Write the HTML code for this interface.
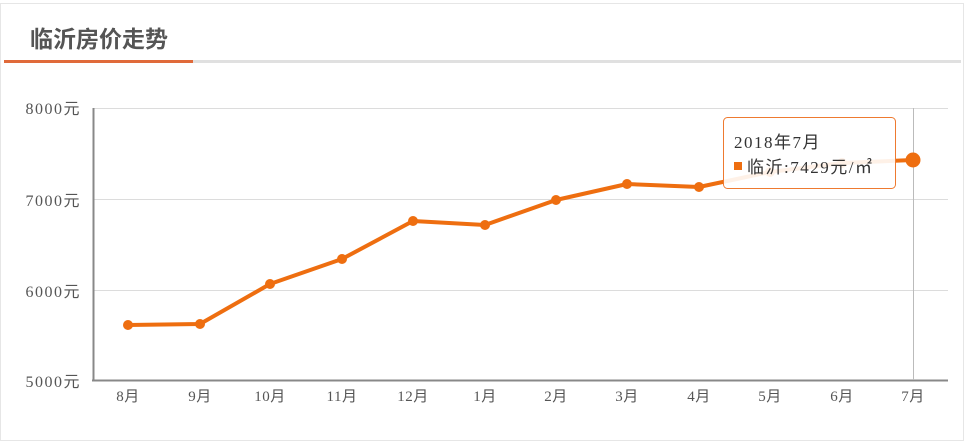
<!DOCTYPE html><html><head><meta charset="utf-8"><style>
body{margin:0;width:965px;height:442px;background:#fff;overflow:hidden;font-family:"Liberation Sans","Noto Sans CJK SC",sans-serif}
</style></head><body>
<svg width="965" height="442" style="position:absolute;left:0;top:0" font-family="Liberation Serif, Noto Sans CJK SC, serif">
<rect x="0.5" y="3.5" width="963" height="437" fill="#fff" stroke="#e6e6e6"/>
<text x="30" y="47" font-size="23" font-weight="bold" fill="#555" font-family="Liberation Sans, Noto Sans CJK SC, sans-serif">临沂房价走势</text>
<rect x="4" y="60" width="957" height="3" fill="#e0e0e0"/>
<rect x="4" y="60" width="189" height="3" fill="#e06a3a"/>
<g stroke="#dcdcdc" stroke-width="1">
<line x1="93" y1="108.5" x2="948" y2="108.5"/><line x1="93" y1="199.5" x2="948" y2="199.5"/><line x1="93" y1="290.5" x2="948" y2="290.5"/>
</g>
<line x1="93.5" y1="108" x2="93.5" y2="381" stroke="#888" stroke-width="2"/>
<line x1="92" y1="380.5" x2="948" y2="380.5" stroke="#888" stroke-width="2"/>
<line x1="913.5" y1="108" x2="913.5" y2="380" stroke="#bbb"/>
<g font-size="16" fill="#555" text-anchor="end" letter-spacing="1.5">
<text x="81" y="114">8000元</text><text x="81" y="206">7000元</text><text x="81" y="297">6000元</text><text x="81" y="387">5000元</text>
</g>
<g font-size="15" fill="#555" text-anchor="middle" letter-spacing="0.5">
<text x="128" y="401">8月</text><text x="200" y="401">9月</text><text x="270" y="401">10月</text><text x="342" y="401">11月</text><text x="413" y="401">12月</text><text x="485" y="401">1月</text><text x="556" y="401">2月</text><text x="627" y="401">3月</text><text x="699" y="401">4月</text><text x="770" y="401">5月</text><text x="842" y="401">6月</text><text x="913" y="401">7月</text>
</g>
<polyline fill="none" stroke="#ee6e10" stroke-width="4" stroke-linejoin="round" points="128,325 200,324 270,284 342,259 413,221 485,225 556,200 627,184 699,187 770,172 842,163 913,160"/>
<g fill="#ee6e10">
<circle cx="128" cy="325" r="5"/><circle cx="200" cy="324" r="5"/><circle cx="270" cy="284" r="5"/><circle cx="342" cy="259" r="5"/><circle cx="413" cy="221" r="5"/><circle cx="485" cy="225" r="5"/><circle cx="556" cy="200" r="5"/><circle cx="627" cy="184" r="5"/><circle cx="699" cy="187" r="5"/><circle cx="770" cy="172" r="5"/><circle cx="842" cy="163" r="5"/><circle cx="913" cy="160" r="7.5"/>
</g>
<rect x="723.5" y="117.5" width="172" height="71" rx="4" fill="#fff" fill-opacity="0.9" stroke="#ee7a30"/>
<text x="734" y="148" font-size="17" fill="#333" letter-spacing="1.5">2018年7月</text>
<rect x="734" y="162" width="8" height="8" fill="#ee6e10"/>
<text x="747" y="173" font-size="17" fill="#333" letter-spacing="1.5">临沂:7429元/㎡</text>
</svg>
</body></html>
